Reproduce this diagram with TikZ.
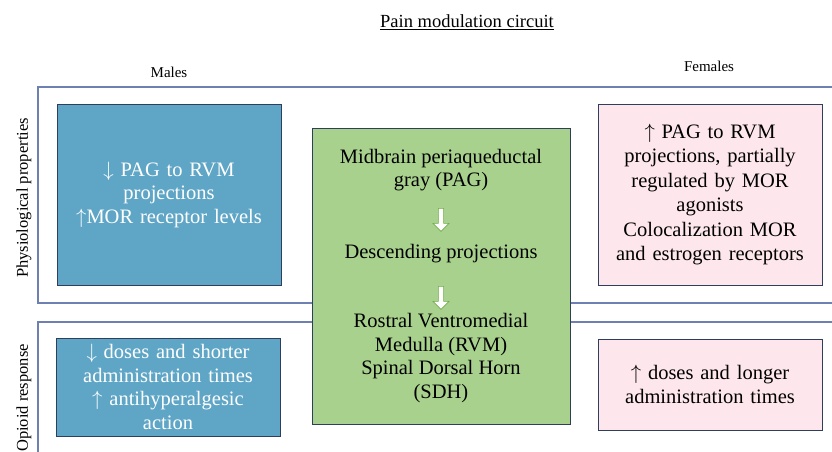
\documentclass[tikz,border=0pt]{standalone}
\usepackage{fontspec}
\setmainfont{Liberation Serif}
\usepackage{xcolor}
\usetikzlibrary{shapes.arrows,positioning}

\definecolor{malefill}{RGB}{95,166,198}
\definecolor{femalefill}{RGB}{253,231,236}
\definecolor{circuitfill}{RGB}{169,209,142}
\definecolor{boxline}{RGB}{47,62,92}
\definecolor{frameline}{RGB}{110,128,178}
\definecolor{arrowline}{RGB}{112,173,71}

\begin{document}
\begin{tikzpicture}[
  x=1pt, y=-1pt,
  panel/.style={
    draw=boxline,
    line width=0.8pt,
    align=center,
    inner sep=4pt,
    font=\fontsize{20.5}{23.5}\selectfont
  },
  male/.style={panel, fill=malefill, text=white},
  female/.style={panel, fill=femalefill, text=black},
  circuit/.style={panel, fill=circuitfill, text=black},
  frame/.style={draw=frameline, line width=1.2pt},
  rowlabel/.style={rotate=90, font=\fontsize{16.5}{19}\selectfont},
  collabel/.style={font=\fontsize{15}{18}\selectfont},
  circtext/.style={align=center, font=\fontsize{20.5}{23.5}\selectfont},
  downarrow/.style={
    single arrow,
    draw=arrowline,
    fill=white,
    line width=0.6pt,
    shape border rotate=270,
    minimum width=16pt,
    minimum height=23pt,
    single arrow head extend=3pt,
    inner sep=1.2pt
  }
]
\useasboundingbox (0,0) rectangle (832,452);

% frames of the two rows
\draw[frame] (845,87) -- (38,87) -- (38,303) -- (845,303);
\draw[frame] (845,322) -- (38,322) -- (38,460);

% headings
\node[font=\fontsize{18.5}{22}\selectfont] (title) at (467,22)
{\underline{Pain modulation circuit}};
\node[collabel] (males) at (169,72) {Males};
\node[collabel] (females) at (709,66) {Females};
\node[rowlabel] (physio) at (24,198) {Physiological properties};
\node[rowlabel] (opioid) at (24,398) {Opioid response};

% males
\node[male, minimum width=224pt, minimum height=181pt, text width=214pt] (malephys) at (169,194.5)
{$\downarrow$ PAG to RVM\\projections\\$\uparrow$MOR receptor levels};
\node[male, minimum width=224pt, minimum height=98pt, text width=214pt] (maleopi) at (168,387)
{$\downarrow$ doses and shorter\\administration times\\$\uparrow$ antihyperalgesic\\action};

% females
\node[female, minimum width=224pt, minimum height=181pt, text width=214pt,
  font=\fontsize{20.5}{24.5}\selectfont] (femphys) at (710,194.5)
{$\uparrow$ PAG to RVM\\projections, partially\\regulated by MOR\\agonists\\Colocalization MOR\\and estrogen receptors};
\node[female, minimum width=224pt, minimum height=91pt, text width=214pt] (femopi) at (710,384.5)
{$\uparrow$ doses and longer\\administration times};

% descending circuit
\node[circuit, minimum width=258pt, minimum height=296pt] (circuit) at (441,276) {};
\node[circtext] (pag) at (441,170) {Midbrain periaqueductal\\gray (PAG)};
\node[circtext] (desc) at (441,254) {Descending projections};
\node[circtext] (rvm) at (441,358)
{Rostral Ventromedial\\Medulla (RVM)\\Spinal Dorsal Horn\\(SDH)};
\node[downarrow] (arr1) at (441,218.5) {};
\node[downarrow] (arr2) at (441,296.5) {};
\end{tikzpicture}
\end{document}
